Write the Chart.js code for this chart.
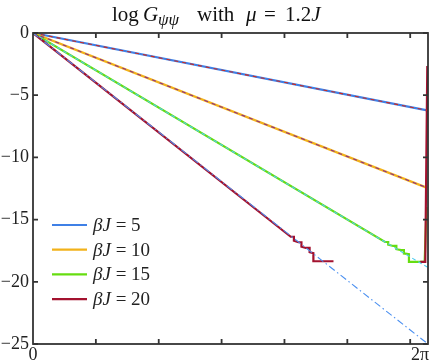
<!DOCTYPE html>
<html>
<head>
<meta charset="utf-8">
<script src="https://cdn.jsdelivr.net/npm/chart.js@4/dist/chart.umd.min.js"></script>
<style>
  html, body { margin: 0; padding: 0; background: #fff; }
  #wrap { width: 437px; height: 363px; }
</style>
</head>
<body>
<div id="wrap"><canvas id="chart" width="437" height="363"></canvas></div>
<script>
const TWO_PI = 6.2832;
const xTicks = [1, 2, 3, 4, 5, 6];
const yTicks = [0, -5, -10, -15, -20, -25];
const legendLabels = ["5", "10", "15", "20"];
const lineColors = ["#3f80e6", "#f2b21a", "#66dd10", "#a3122f"];
const fitColors = ["#cc2a22", "#8a2c8c", "#4fcdf0", "#4a8ff0"];

// numerical curves
const bj5 = [[0, 0], [6.27, -6.22]];
const bj10 = [[0, 0], [6.27, -12.45]];
const bj15 = [[0, 0], [5.60, -16.80], [5.65, -16.80], [5.65, -17.02], [5.73, -17.12], [5.78, -17.12],
  [5.78, -17.38], [5.86, -17.46], [5.90, -17.46], [5.90, -17.72], [5.98, -17.78], [5.98, -18.40],
  [6.23, -18.40], [6.26, -14.0]];
const bj20 = [[0, 0], [4.10, -16.38], [4.15, -16.38], [4.15, -16.70], [4.22, -16.82], [4.27, -16.82],
  [4.27, -17.18], [4.34, -17.28], [4.40, -17.28], [4.40, -17.62], [4.46, -17.70], [4.46, -18.35],
  [4.78, -18.35]];
const bj20Tail = [[6.16, -18.40], [6.24, -18.40], [6.272, -2.65]];

// analytic lines drawn on top
const fit5 = [[0, 0], [6.27, -6.22]];
const fit10 = [[0, 0], [6.27, -12.45]];
const fit15 = [[0, 0], [TWO_PI, -18.85]];
const fit20 = [[0, 0], [TWO_PI, -25]];

const pts = arr => arr.map(p => ({ x: p[0], y: p[1] }));

const mainSets = [
  { data: pts(bj20Tail), borderColor: lineColors[3] },
  { data: pts(bj20), borderColor: lineColors[3] },
  { data: pts(bj15), borderColor: lineColors[2] },
  { data: pts(bj10), borderColor: lineColors[1] },
  { data: pts(bj5), borderColor: lineColors[0] },
].map(d => Object.assign(d, { borderWidth: 2.2, pointRadius: 0, order: 2, tension: 0 }));

const fitSets = [
  { data: pts(fit5), borderColor: fitColors[0], borderDash: [4, 4] },
  { data: pts(fit10), borderColor: fitColors[1], borderDash: [4, 4] },
  { data: pts(fit15), borderColor: fitColors[2], borderDash: [4, 3] },
  { data: pts(fit20), borderColor: fitColors[3], borderDash: [7, 3, 1.5, 3] },
].map(d => Object.assign(d, { borderWidth: 1.1, pointRadius: 0, order: 1, tension: 0 }));

const SERIF = "'Liberation Serif', 'DejaVu Serif', serif";

function drawRich(ctx, parts, x, y) {
  let cx = x;
  ctx.textAlign = "left";
  parts.forEach(p => {
    ctx.font = p.f;
    if (p.x !== undefined) cx = p.x;
    ctx.fillText(p.t, cx, y + (p.dy || 0));
    cx += ctx.measureText(p.t).width;
  });
}

const axesPlugin = {
  id: "axesPlugin",
  afterDraw(chart) {
    const ctx = chart.ctx;
    const { left, right, top, bottom } = chart.chartArea;
    const xs = chart.scales.x, ys = chart.scales.y;
    ctx.save();
    ctx.strokeStyle = "#333";
    ctx.lineWidth = 1.8;
    ctx.strokeRect(left, top, right - left, bottom - top);
    ctx.beginPath();
    xTicks.forEach(t => {
      const px = xs.getPixelForValue(t);
      ctx.moveTo(px, bottom); ctx.lineTo(px, bottom - 5);
      ctx.moveTo(px, top); ctx.lineTo(px, top + 5);
    });
    yTicks.forEach(t => {
      const py = ys.getPixelForValue(t);
      ctx.moveTo(left, py); ctx.lineTo(left + 5, py);
      ctx.moveTo(right, py); ctx.lineTo(right - 5, py);
    });
    ctx.stroke();

    ctx.fillStyle = "#222";
    ctx.font = "18px " + SERIF;
    ctx.textBaseline = "middle";
    ctx.textAlign = "right";
    yTicks.forEach(t => {
      const lbl = t === 0 ? "0" : "\u2212" + Math.abs(t);
      ctx.fillText(lbl, left - 4, ys.getPixelForValue(t));
    });
    ctx.textBaseline = "top";
    ctx.textAlign = "center";
    ctx.fillText("0", xs.getPixelForValue(0), bottom + 2);
    ctx.textAlign = "right";
    ctx.fillText("2\u03c0", xs.getPixelForValue(TWO_PI) + 1, bottom + 2);

    // title
    ctx.textBaseline = "alphabetic";
    ctx.fillStyle = "#111";
    drawRich(ctx, [
      { t: "log", f: "21px " + SERIF, x: 112 },
      { t: "G", f: "italic 21px " + SERIF, x: 143 },
      { t: "\u03c8\u03c8", f: "italic 17px " + SERIF, dy: 4, x: 158 },
      { t: "with", f: "21px " + SERIF, x: 197 },
      { t: "\u03bc", f: "italic 21px " + SERIF, x: 246 },
      { t: "=", f: "21px " + SERIF, x: 264 },
      { t: "1.2", f: "21px " + SERIF, x: 285 },
      { t: "J", f: "italic 21px " + SERIF },
    ], 0, 21);

    // legend
    ctx.textBaseline = "middle";
    legendLabels.forEach((lab, i) => {
      const yy = 225 + i * 24.7;
      ctx.strokeStyle = lineColors[i];
      ctx.lineWidth = 2.2;
      ctx.beginPath();
      ctx.moveTo(52, yy); ctx.lineTo(87, yy);
      ctx.stroke();
      ctx.fillStyle = "#222";
      drawRich(ctx, [
        { t: "\u03b2J", f: "italic 19px " + SERIF },
        { t: " = " + lab, f: "19px " + SERIF },
      ], 93, yy + 1);
    });
    ctx.restore();
  }
};

document.addEventListener("DOMContentLoaded", () => {
  const ctx = document.getElementById("chart").getContext("2d");
  new Chart(ctx, {
    type: "line",
    data: { datasets: [...fitSets, ...mainSets] },
    options: {
      responsive: false,
      animation: false,
      layout: { padding: { left: 33, right: 9, top: 33, bottom: 19 } },
      plugins: { legend: { display: false }, tooltip: { enabled: false }, title: { display: false } },
      scales: {
        x: { type: "linear", min: 0, max: TWO_PI, display: false },
        y: { type: "linear", min: -25, max: 0, display: false },
      },
    },
    plugins: [axesPlugin],
  });
});
</script>
</body>
</html>
